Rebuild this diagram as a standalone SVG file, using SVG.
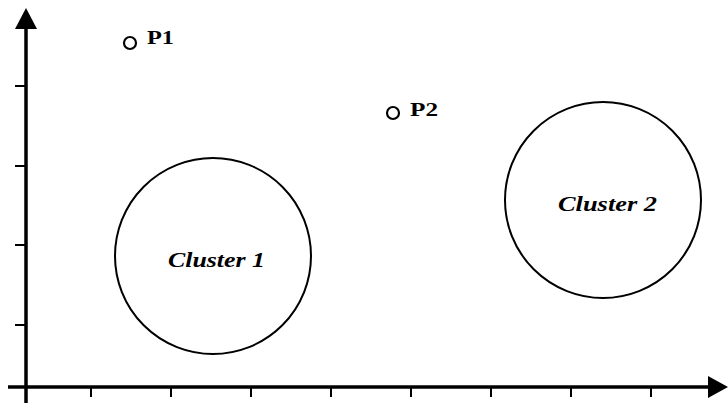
<svg xmlns="http://www.w3.org/2000/svg" width="728" height="403" viewBox="0 0 728 403">
<style>
.axis{stroke:#000;stroke-width:3.5;fill:none}
.tick{stroke:#000;stroke-width:2}
.cl{fill:none;stroke:#000;stroke-width:2}
.pt{fill:none;stroke:#000;stroke-width:2.2}
.pl{font-family:"Liberation Serif",serif;font-weight:bold;font-size:18px;fill:#000}
.cll{font-family:"Liberation Serif",serif;font-weight:bold;font-style:italic;font-size:22px;fill:#000}
</style>
<rect width="728" height="403" fill="#fff"/>
<g id="axes">
<line class="axis" x1="26" y1="24" x2="26" y2="403"/>
<polygon points="26,8 15,29 37,29" fill="#000"/>
<line class="axis" x1="8" y1="387" x2="712" y2="387"/>
<polygon points="728,387 708,376 708,398" fill="#000"/>
<g class="tick">
<line x1="15" y1="86" x2="26" y2="86"/>
<line x1="15" y1="166" x2="26" y2="166"/>
<line x1="15" y1="245" x2="26" y2="245"/>
<line x1="15" y1="325" x2="26" y2="325"/>
<line x1="91" y1="387" x2="91" y2="397"/>
<line x1="171" y1="387" x2="171" y2="397"/>
<line x1="251" y1="387" x2="251" y2="397"/>
<line x1="331" y1="387" x2="331" y2="397"/>
<line x1="411" y1="387" x2="411" y2="397"/>
<line x1="491" y1="387" x2="491" y2="397"/>
<line x1="571" y1="387" x2="571" y2="397"/>
<line x1="651" y1="387" x2="651" y2="397"/>
</g>
</g>
<g id="cluster1">
<circle class="cl" cx="213" cy="256" r="98"/>
<text class="cll" x="168" y="267" textLength="97" lengthAdjust="spacingAndGlyphs">Cluster 1</text>
</g>
<g id="cluster2">
<circle class="cl" cx="603" cy="200" r="98"/>
<text class="cll" x="558" y="211" textLength="99" lengthAdjust="spacingAndGlyphs">Cluster 2</text>
</g>
<g id="p1">
<circle class="pt" cx="130" cy="43" r="6"/>
<text class="pl" x="147" y="44" textLength="27" lengthAdjust="spacingAndGlyphs">P1</text>
</g>
<g id="p2">
<circle class="pt" cx="393" cy="113" r="6"/>
<text class="pl" x="410" y="116" textLength="28" lengthAdjust="spacingAndGlyphs">P2</text>
</g>
</svg>
